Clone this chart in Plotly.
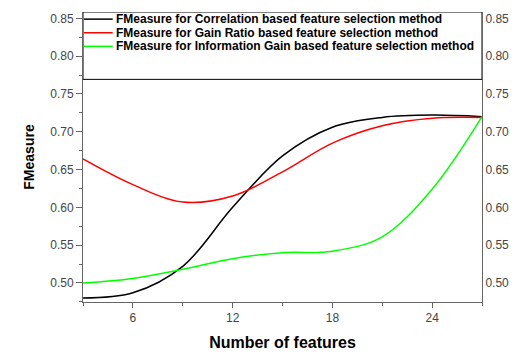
import plotly.graph_objects as go

features = [3, 6, 9, 12, 15, 18, 21, 24, 27]
corr = [0.480, 0.487, 0.522, 0.600, 0.668, 0.706, 0.719, 0.722, 0.720]
gain_ratio = [0.664, 0.630, 0.607, 0.615, 0.647, 0.685, 0.708, 0.718, 0.719]
info_gain = [0.500, 0.506, 0.518, 0.532, 0.540, 0.542, 0.561, 0.624, 0.720]

names = [
    "FMeasure for Correlation based feature selection method",
    "FMeasure for Gain Ratio based feature selection method",
    "FMeasure for Information Gain based feature selection method",
]
colors = ["#000000", "#ff0000", "#00ff00"]
series = [corr, gain_ratio, info_gain]

y_ticks = [0.50, 0.55, 0.60, 0.65, 0.70, 0.75, 0.80, 0.85]
x_ticks = [6, 12, 18, 24]

fig = go.Figure()
for n, c, s in zip(names, colors, series):
    fig.add_trace(go.Scatter(x=features, y=s, mode="lines", name=n, showlegend=False,
                             line=dict(color=c, width=1.5, shape="spline", smoothing=1.0)))
fig.add_trace(go.Scatter(x=[features[0]], y=[corr[0]], yaxis="y2", mode="lines",
                         showlegend=False, hoverinfo="skip", line=dict(width=0)))

yr = [0.4748, 0.8584]
axis_gray = "#666666"
font_fam = "Liberation Sans, Arial, sans-serif"

# plot area in pixels (for legend placement)
L, R, T, B = 83, 35, 12, 44
W, H = 521, 361
pw, ph = W - L - R, H - T - B

def px_x(p):
    return (p - L) / pw

def px_y(p):
    return 1 - (p - T) / ph

shapes = [dict(type="rect", xref="paper", yref="y", x0=0, x1=1, y0=0.7693, y1=yr[1],
               line=dict(color="black", width=1), fillcolor="white", layer="below")]
annotations = []
row_y0, row_step = 19.5, 14.3
for i, (n, c) in enumerate(zip(names, colors)):
    yy = px_y(row_y0 + i * row_step)
    shapes.append(dict(type="line", xref="paper", yref="paper", x0=px_x(84), x1=px_x(113),
                       y0=yy, y1=yy, line=dict(color=c, width=1.5)))
    annotations.append(dict(xref="paper", yref="paper", x=px_x(114), y=yy, text=n,
                            showarrow=False, xanchor="left", yanchor="middle",
                            font=dict(family=font_fam, size=12, color="#000000", weight="bold")))

fig.update_layout(
    width=W, height=H,
    margin=dict(l=L, r=R, t=T, b=B),
    paper_bgcolor="white", plot_bgcolor="white",
    font=dict(family=font_fam, size=12, color="#444444"),
    showlegend=False,
    xaxis=dict(range=[3, 27], tickvals=x_ticks, ticks="outside", ticklen=5,
               tickcolor=axis_gray, showline=True, linecolor=axis_gray, linewidth=1,
               showgrid=False, zeroline=False,
               minor=dict(dtick=3, tick0=0, ticks="outside", ticklen=3, tickcolor=axis_gray),
               title=dict(text="Number of features", standoff=12,
                          font=dict(family=font_fam, size=16, color="#000000", weight="bold"))),
    yaxis=dict(range=yr, tickvals=y_ticks, tickformat=".2f", ticks="outside", ticklen=6,
               tickcolor=axis_gray, showline=True, linecolor=axis_gray, linewidth=1,
               showgrid=False, zeroline=False,
               minor=dict(dtick=0.025, tick0=0.475, ticks="outside", ticklen=3, tickcolor=axis_gray),
               title=dict(text="FMeasure", standoff=12,
                          font=dict(family=font_fam, size=14, color="#000000", weight="bold"))),
    yaxis2=dict(range=yr, overlaying="y", side="right", tickvals=y_ticks, tickformat=".2f",
                ticks="", showline=True, linecolor=axis_gray, linewidth=1,
                showgrid=False, zeroline=False),
    shapes=shapes,
    annotations=annotations,
)

fig.write_html("out.html")
